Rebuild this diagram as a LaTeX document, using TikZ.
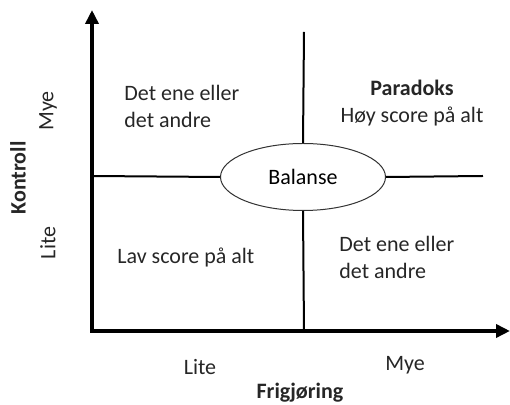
\documentclass[tikz,border=0pt]{standalone}
\usepackage{fontspec}
\setmainfont{Carlito}
\usetikzlibrary{arrows.meta,shapes.geometric}
\tikzset{
    quad axis/.style={line width=2pt, -{Triangle[length=7pt,width=6.5pt]}},
    quad divider/.style={line width=1pt},
    quad label/.style={font=\fontsize{11}{13.5}\selectfont, text=black!85, align=left, inner sep=0pt},
    axis title/.style={font=\fontsize{11}{13.5}\selectfont\bfseries, text=black!85, inner sep=0pt},
    axis tick/.style={font=\fontsize{11}{13.5}\selectfont, text=black!85, inner sep=0pt},
    balance ellipse/.style={
        draw=black!80,
        ellipse,
        line width=0.5pt,
        inner sep=0pt,
        minimum width=82.5pt,
        minimum height=33.5pt,
        font=\fontsize{11}{13.5}\selectfont
    }
}
\begin{document}
\begin{tikzpicture}[x=0.5pt,y=-0.5pt]
    \useasboundingbox (0,0) rectangle (510,405);

    \coordinate (origin) at (92,331);
    \coordinate (ytop) at (92,10);
    \coordinate (xend) at (510,331);
    \coordinate (divtop) at (304,32);
    \coordinate (divbot) at (304,331);
    \coordinate (divleft) at (92,176);
    \coordinate (divright) at (483,176);

    \node[balance ellipse] (bal) at (303,177) {Balanse};

    \draw[quad divider] (divtop) -- (bal.north);
    \draw[quad divider] (bal.south) -- (divbot);
    \draw[quad divider] (divleft) -- (bal.west);
    \draw[quad divider] (bal.east) -- (divright);

    \draw[quad axis] ([yshift=-1pt]origin) -- (ytop);
    \draw[quad axis] ([xshift=-1pt]origin) -- (xend);

    \node[quad label, anchor=west] (tl) at (124,106) {Det ene eller\\det andre};
    \node[quad label, align=center] (tr) at (412,103) {\textbf{Paradoks}\\Høy score på alt};
    \node[quad label, anchor=west] (bl) at (117,257) {Lav score på alt};
    \node[quad label, anchor=west] (br) at (339,257) {Det ene eller\\det andre};

    \node[axis tick, rotate=90] (ymye) at (48,111) {Mye};
    \node[axis tick, rotate=90] (ylite) at (48,243) {Lite};
    \node[axis title, rotate=90] (ytitle) at (18,178) {Kontroll};
    \node[axis tick] (xlite) at (200,367) {Lite};
    \node[axis tick] (xmye) at (405,365) {Mye};
    \node[axis title] (xtitle) at (300,393) {Frigjøring};
\end{tikzpicture}
\end{document}
